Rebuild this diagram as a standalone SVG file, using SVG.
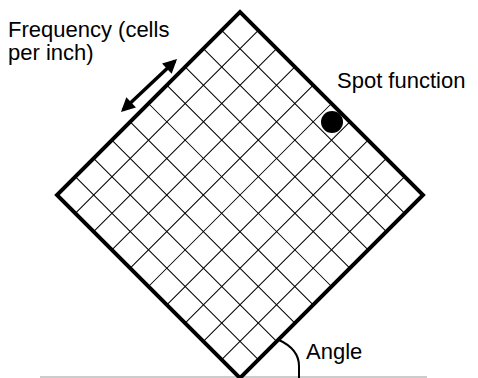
<svg xmlns="http://www.w3.org/2000/svg" width="478" height="378" viewBox="0 0 478 378">
<style>
.lbl{font-family:"Liberation Sans",Arial,sans-serif;font-size:22px;fill:#000}
.grid{stroke:#000;stroke-width:1;fill:none}
.border{stroke:#000;stroke-width:4;fill:none;stroke-linejoin:miter}
</style>
<defs>
<marker id="ah" viewBox="0 0 10 10" refX="8" refY="5" markerWidth="4.5" markerHeight="4" orient="auto-start-reverse" markerUnits="strokeWidth">
<path d="M0,0 L10,5 L0,10 Z" fill="#000"/>
</marker>
</defs>
<rect width="478" height="378" fill="#fff"/>
<line id="baseline" x1="40" y1="377" x2="427" y2="377" stroke="#bbb" stroke-width="1.5"/>
<g id="screen" transform="translate(240,195) rotate(45)">
<g class="grid">
<path d="M-103.5,-129.4V129.4M-77.6,-129.4V129.4M-51.8,-129.4V129.4M-25.9,-129.4V129.4M0,-129.4V129.4M25.9,-129.4V129.4M51.8,-129.4V129.4M77.6,-129.4V129.4M103.5,-129.4V129.4"/>
<path d="M-129.4,-103.5H129.4M-129.4,-77.6H129.4M-129.4,-51.8H129.4M-129.4,-25.9H129.4M-129.4,0H129.4M-129.4,25.9H129.4M-129.4,51.8H129.4M-129.4,77.6H129.4M-129.4,103.5H129.4"/>
</g>
<rect class="border" x="-129.4" y="-129.4" width="258.8" height="258.8"/>
</g>
<g id="spot"><circle cx="332" cy="122" r="11" fill="#000"/></g>
<g id="connectors">
<line x1="123" y1="110" x2="175" y2="61" stroke="#000" stroke-width="3.5" marker-start="url(#ah)" marker-end="url(#ah)"/>
<path d="M279,340 C292,346 299,355 299,366 L299,378" fill="none" stroke="#000" stroke-width="2"/>
</g>
<g id="labels">
<text class="lbl" x="8" y="37">Frequency (cells</text>
<text class="lbl" x="8" y="60">per inch)</text>
<text class="lbl" x="337" y="88">Spot function</text>
<text class="lbl" x="306" y="359">Angle</text>
</g>
</svg>
